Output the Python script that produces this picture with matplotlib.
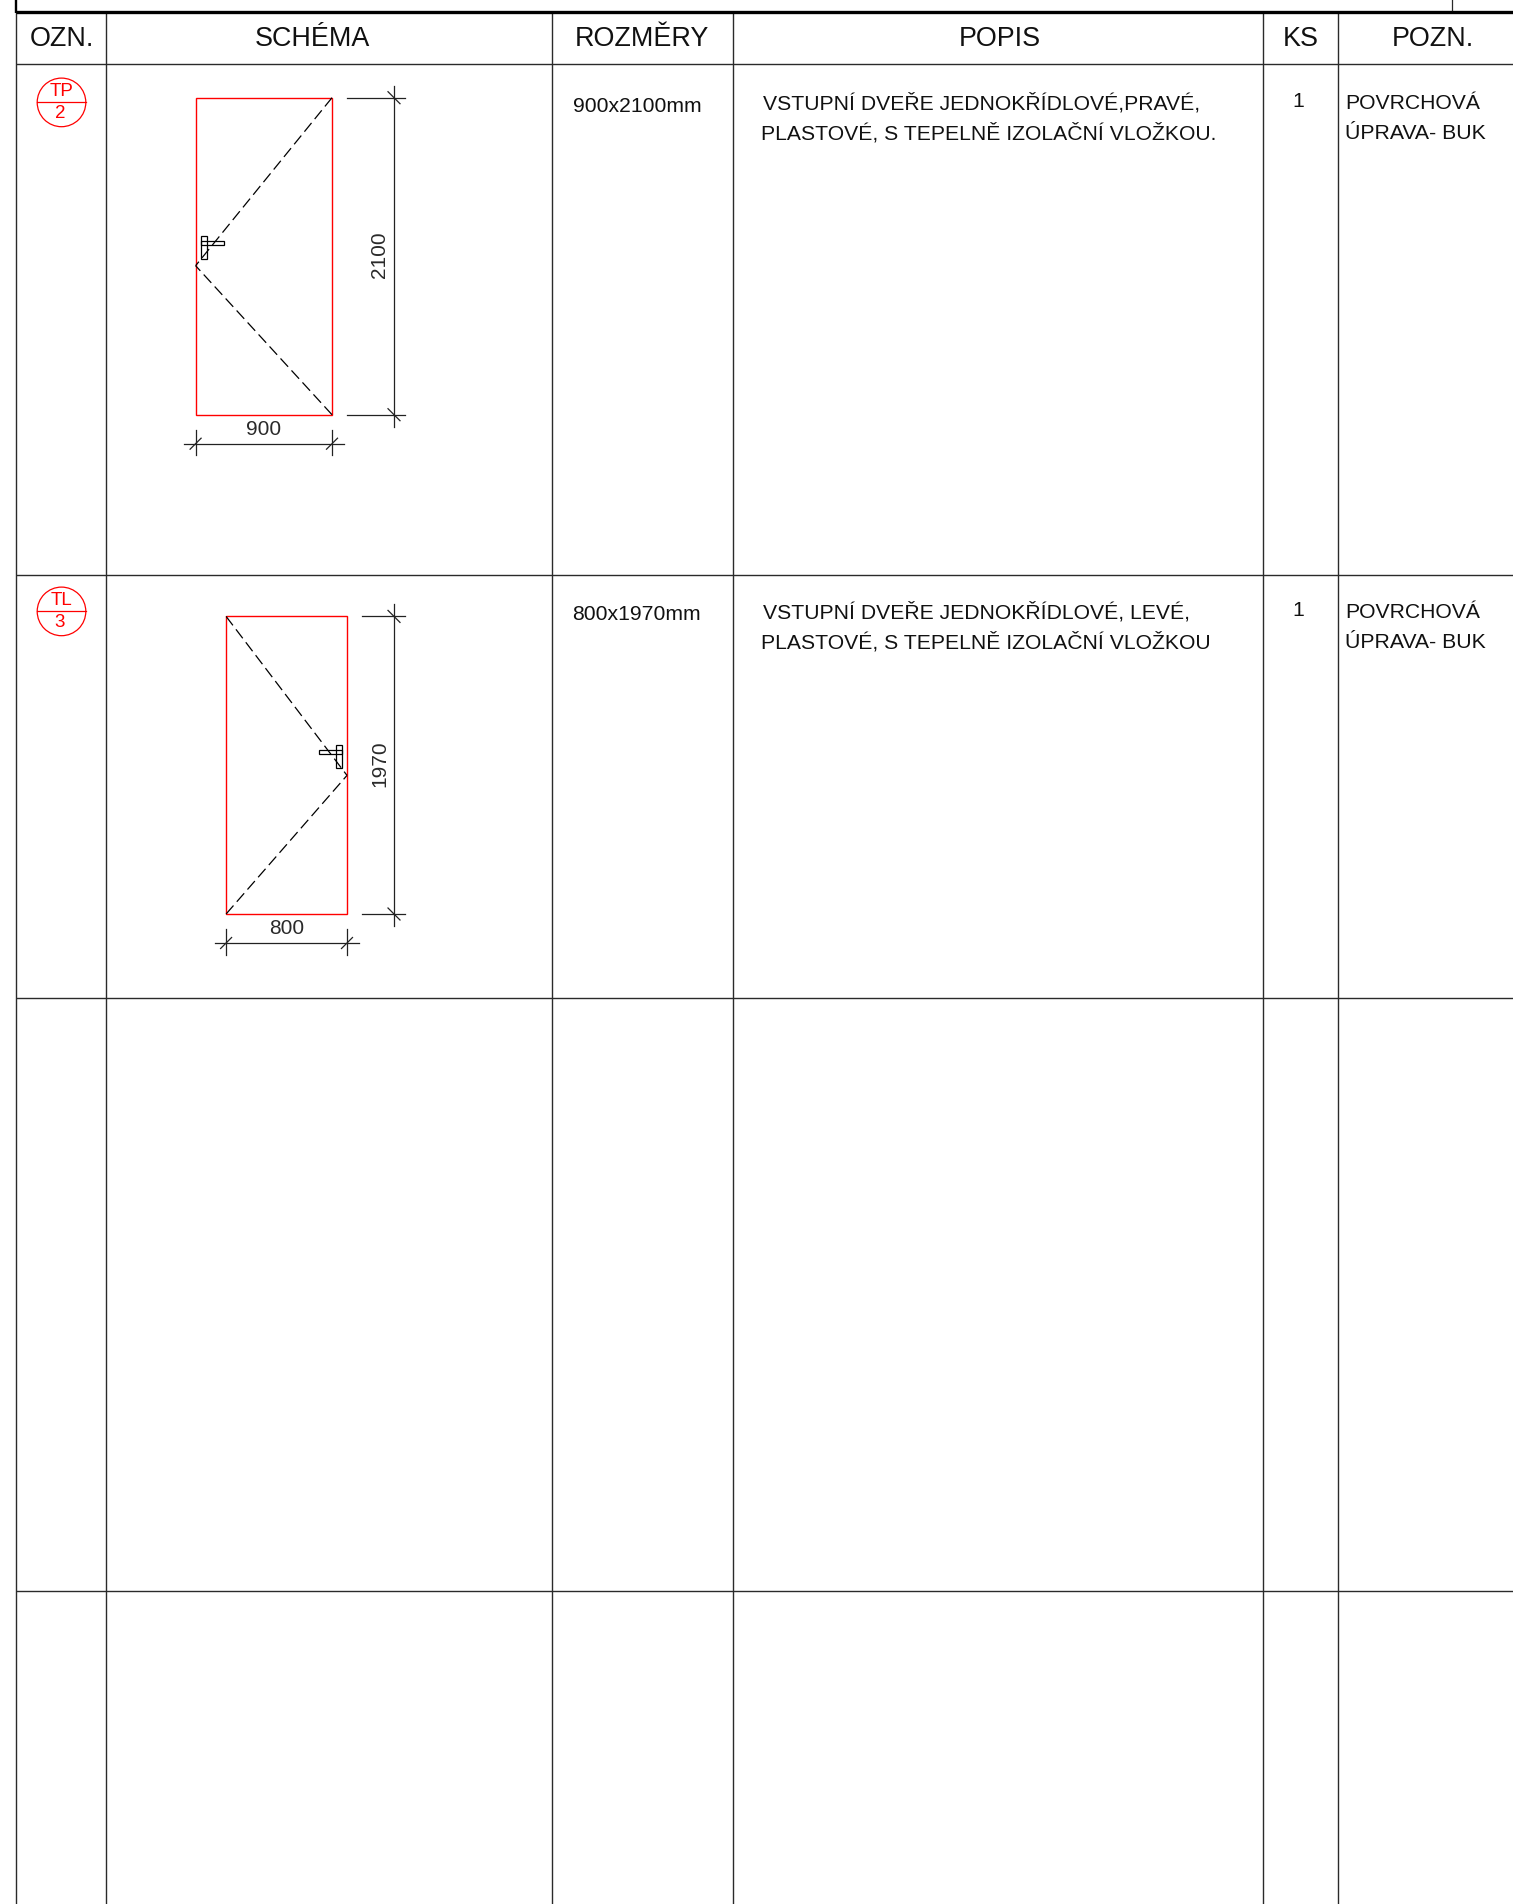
import matplotlib
matplotlib.use("Agg")
import matplotlib.pyplot as plt
from matplotlib.patches import Circle, Rectangle

# ================= DATA =================
COL_X = [15.6, 106, 552, 733, 1262.6, 1338]
ROW_Y = [64.4, 574.7, 997.7, 1590.7]
HEADERS = ["OZN.", "SCHÉMA", "ROZMĚRY", "POPIS", "KS", "POZN."]
HEADER_X = [61.5, 312, 642, 999.5, 1301, 1432.5]

MARK_TOP = ["TP", "TL"]
MARK_NUM = ["2", "3"]
MARK_Y = [102.4, 611.4]
SIZES = ["900x2100mm", "800x1970mm"]
DESC_1 = ["VSTUPNÍ DVEŘE JEDNOKŘÍDLOVÉ,PRAVÉ,", "VSTUPNÍ DVEŘE JEDNOKŘÍDLOVÉ, LEVÉ,"]
DESC_2 = ["PLASTOVÉ, S TEPELNĚ IZOLAČNÍ VLOŽKOU.", "PLASTOVÉ, S TEPELNĚ IZOLAČNÍ VLOŽKOU"]
COUNTS = ["1", "1"]
NOTE_1 = ["POVRCHOVÁ", "POVRCHOVÁ"]
NOTE_2 = ["ÚPRAVA- BUK", "ÚPRAVA- BUK"]
TEXT_Y = [105.5, 614.5]

DOOR_LEFT = [195.6, 226.1]
DOOR_RIGHT = [332, 347]
DOOR_TOP = [97.7, 616.4]
DOOR_BOTTOM = [414.7, 914]
DOOR_TIP_X = [195.6, 347]
DOOR_TIP_Y = [265.7, 775.4]
WIDTH_LABEL = ["900", "800"]
HEIGHT_LABEL = ["2100", "1970"]
HANDLE_X = [200.6, 335.6]
HANDLE_Y = [235.7, 745.4]
BAR_X = [200.6, 318.6]
BAR_Y = [240.7, 750.4]

# ================= FIGURE =================
fig = plt.figure(figsize=(15.13, 19.04), dpi=100)
ax = fig.add_axes([0, 0, 1, 1])
ax.set_xlim(0, 1513)
ax.set_ylim(1904, 0)
ax.axis("off")

LINE = "#2a2a2a"
THIN = 0.9
BODY = 15.2
HEAD = 19.4
SANS = "Liberation Sans"
INK = "#111111"
CAD = dict(family=SANS, color="#2a2a2a")

# table grid
for x in COL_X:
    ax.plot([x, x], [11, 1904], color=LINE, lw=1.0, solid_capstyle="butt")
for y in ROW_Y:
    ax.plot([16, 1513], [y, y], color=LINE, lw=1.0, solid_capstyle="butt")
ax.plot([16, 1513], [11.7, 11.7], color="black", lw=2.4, solid_capstyle="butt")
ax.plot([16, 16], [0, 12.8], color="black", lw=1.7, solid_capstyle="butt")
ax.plot([1452, 1452], [0, 10], color=LINE, lw=THIN)

for name, x in zip(HEADERS, HEADER_X):
    ax.text(x, 39.5, name, ha="center", va="center", fontsize=HEAD, family=SANS, color=INK)


def tick(x, y):
    ax.plot([x - 5.5, x + 5.5], [y + 5.5, y - 5.5], color="#222222", lw=THIN)


# two rows of doors
for i in range(2):
    # red mark
    my = MARK_Y[i]
    ax.add_patch(Circle((61.5, my), 24.3, fill=False, ec="red", lw=THIN))
    ax.plot([37.2, 85.8], [my, my], color="red", lw=THIN)
    ax.text(61.5, my - 11, MARK_TOP[i], ha="center", va="center", fontsize=13.5,
            family=SANS, color="red")
    ax.text(60, my + 11, MARK_NUM[i], ha="center", va="center", fontsize=13.5,
            family=SANS, color="red")

    # text columns
    ty = TEXT_Y[i]
    ax.text(572.5, ty + 0.5, SIZES[i], va="center", fontsize=BODY, family=SANS, color=INK)
    ax.text(763, ty - 2, DESC_1[i], va="center", fontsize=BODY, family=SANS, color=INK)
    ax.text(761, ty + 28, DESC_2[i], va="center", fontsize=BODY, family=SANS, color=INK)
    ax.text(1298, ty - 4, COUNTS[i], ha="center", va="center", fontsize=BODY, family=SANS, color=INK)
    ax.text(1345, ty - 2, NOTE_1[i], va="center", fontsize=BODY, family=SANS, color=INK)
    ax.text(1345, ty + 28, NOTE_2[i], va="center", fontsize=15.35, family=SANS, color=INK)

    # door frame
    l, r, t, b = DOOR_LEFT[i], DOOR_RIGHT[i], DOOR_TOP[i], DOOR_BOTTOM[i]
    ax.add_patch(Rectangle((l, t), r - l, b - t, fill=False, ec="red", lw=1.0))

    # opening lines, from the hinge side to the handle side
    hinge_x = l if DOOR_TIP_X[i] == r else r
    ax.plot([hinge_x, DOOR_TIP_X[i]], [t, DOOR_TIP_Y[i]], color="black", lw=THIN, dashes=(9, 4))
    ax.plot([hinge_x, DOOR_TIP_X[i]], [b, DOOR_TIP_Y[i]], color="black", lw=THIN, dashes=(9, 4))

    # handle
    ax.add_patch(Rectangle((HANDLE_X[i], HANDLE_Y[i]), 6.5, 23, fill=False, ec="black", lw=THIN))
    ax.add_patch(Rectangle((BAR_X[i], BAR_Y[i]), 23.5, 4, fill=False, ec="black", lw=THIN))

    # height dimension
    ax.plot([394, 394], [t - 12, b + 12], color="#222222", lw=THIN)
    ax.plot([r + 14.5, 405], [t, t], color="#222222", lw=THIN)
    ax.plot([r + 14.5, 405], [b, b], color="#222222", lw=THIN)
    ax.plot([388, 400], [t - 6, t + 6], color="#222222", lw=THIN)
    ax.plot([388, 400], [b - 6, b + 6], color="#222222", lw=THIN)
    ax.text(380, (t + b) / 2 - 1.5, HEIGHT_LABEL[i], rotation=90, ha="center", va="center",
            fontsize=15, **CAD)

    # width dimension
    dy = b + 29
    ax.plot([l - 11.5, r + 11.5], [dy, dy], color="#222222", lw=THIN)
    for x in (l, r):
        ax.plot([x, x], [dy - 14, dy + 11.5], color="#222222", lw=THIN)
        tick(x, dy)
    ax.text((l + r) / 2, b + 15, WIDTH_LABEL[i], ha="center", va="center", fontsize=15, **CAD)

fig.savefig("out.png", dpi=100)
